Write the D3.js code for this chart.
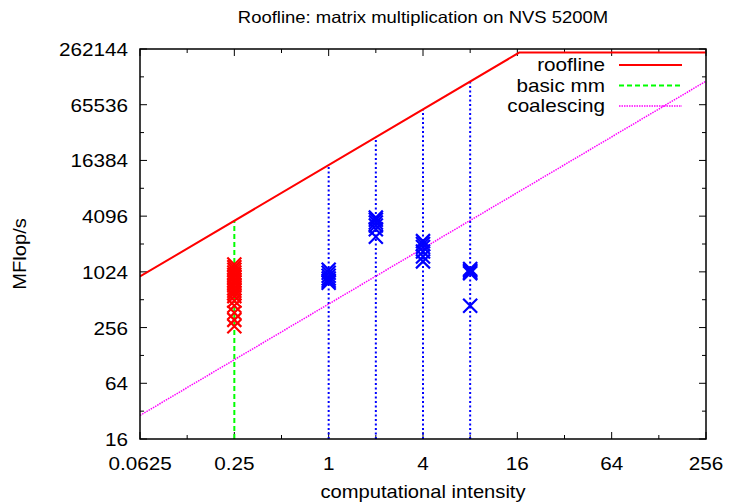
<!DOCTYPE html>
<html>
<head>
<meta charset="utf-8">
<script src="https://cdn.jsdelivr.net/npm/d3@7"></script>
<style>
  body { margin: 0; background: #fff; }
  text { font-family: "Liberation Sans", Arial, sans-serif; fill: #000; }
</style>
</head>
<body>
<div id="chart"></div>
<script>
const width = 729, height = 502;
const margin = {top: 49, right: 23, bottom: 63, left: 140};

// roofline model for the card
const peakMflops = 240000;
const bandwidth = 14600;   // MB/s
const coalescingSlope = 460;

const xTicks = [0.0625, 0.25, 1, 4, 16, 64, 256];
const yTicks = [16, 64, 256, 1024, 4096, 16384, 65536, 262144];

// measured MFlop/s
const basicIntensity = 0.25;
const basicMm = [1230, 1150, 1080, 1010, 950, 890, 830, 780, 730, 680, 640, 600, 560, 500, 440, 370, 310, 265];
const tiledIntensity = [1, 2, 4, 8];
const tiledMm = [
  [1080, 1000, 930, 870, 820, 780],
  [3950, 3750, 3500, 3250, 2950, 2450],
  [2200, 2050, 1900, 1700, 1500, 1330],
  [1100, 1060, 1020, 990, 440]
];

const svg = d3.select('#chart').append('svg')
  .attr('width', width)
  .attr('height', height);

const x = d3.scaleLog().base(2)
  .domain([0.0625, 256])
  .range([margin.left, width - margin.right]);
const y = d3.scaleLog().base(2)
  .domain([16, 262144])
  .range([height - margin.bottom, margin.top]);

const roof = v => Math.min(peakMflops, bandwidth * v);

// ticks, mirrored on all four sides
const xMinor = d3.range(-3, 8, 2).map(e => Math.pow(2, e));
const yMinor = d3.range(5, 18, 2).map(e => Math.pow(2, e));
const tk = svg.append('g').attr('stroke', '#000').attr('stroke-width', 1);
const y0 = y.range()[0], y1 = y.range()[1], x0 = x.range()[0], x1 = x.range()[1];
xTicks.forEach(t => {
  tk.append('line').attr('x1', x(t)).attr('x2', x(t)).attr('y1', y0).attr('y2', y0 - 7);
  tk.append('line').attr('x1', x(t)).attr('x2', x(t)).attr('y1', y1).attr('y2', y1 + 7);
});
xMinor.forEach(t => {
  tk.append('line').attr('x1', x(t)).attr('x2', x(t)).attr('y1', y0).attr('y2', y0 - 4);
  tk.append('line').attr('x1', x(t)).attr('x2', x(t)).attr('y1', y1).attr('y2', y1 + 4);
});
yTicks.forEach(t => {
  tk.append('line').attr('y1', y(t)).attr('y2', y(t)).attr('x1', x0).attr('x2', x0 + 7);
  tk.append('line').attr('y1', y(t)).attr('y2', y(t)).attr('x1', x1).attr('x2', x1 - 7);
});
yMinor.forEach(t => {
  tk.append('line').attr('y1', y(t)).attr('y2', y(t)).attr('x1', x0).attr('x2', x0 + 4);
  tk.append('line').attr('y1', y(t)).attr('y2', y(t)).attr('x1', x1).attr('x2', x1 - 4);
});

svg.append('g').selectAll('text.xt')
  .data(xTicks).enter().append('text')
  .attr('class', 'xt')
  .attr('text-anchor', 'middle')
  .attr('transform', d => `translate(${x(d)},${y0 + 31}) scale(1.15,1)`)
  .style('font-size', '18px')
  .text(d => d);

svg.append('g').selectAll('text.yt')
  .data(yTicks).enter().append('text')
  .attr('class', 'yt')
  .attr('text-anchor', 'end')
  .attr('transform', d => `translate(${x0 - 12},${y(d) + 7}) scale(1.15,1)`)
  .style('font-size', '18px')
  .text(d => d);

const plot = svg.append('g');
svg.append('clipPath').attr('id', 'clip')
  .append('rect').attr('x', x0).attr('y', y1).attr('width', x1 - x0).attr('height', y0 - y1);
plot.attr('clip-path', 'url(#clip)');

// impulses up to the roof
plot.append('line')
  .attr('x1', x(basicIntensity)).attr('x2', x(basicIntensity))
  .attr('y1', y0).attr('y2', y(roof(basicIntensity)))
  .attr('stroke', '#00ff00').attr('stroke-width', 2).attr('stroke-dasharray', '5,3');
plot.selectAll('line.imp')
  .data(tiledIntensity).enter().append('line')
  .attr('class', 'imp')
  .attr('x1', d => x(d)).attr('x2', d => x(d))
  .attr('y1', y0).attr('y2', d => y(roof(d)))
  .attr('stroke', '#0000ff').attr('stroke-width', 2).attr('stroke-dasharray', '2,2.5');

// coalescing line
const xs = [0.0625, 256];
plot.append('path')
  .attr('d', d3.line().x(d => x(d)).y(d => y(coalescingSlope * d))(xs))
  .attr('fill', 'none').attr('stroke', '#ff00ff').attr('stroke-width', 1.5)
  .attr('stroke-dasharray', '1.5,1');

// roofline
const roofPts = [0.0625, peakMflops / bandwidth, 256];
plot.append('path')
  .attr('d', d3.line().x(d => x(d)).y(d => y(roof(d)))(roofPts))
  .attr('fill', 'none').attr('stroke', '#ff0000').attr('stroke-width', 2);

// X markers
function cross(g, px, py, color) {
  const s = 7;
  g.append('path')
    .attr('d', `M${px - s},${py - s}L${px + s},${py + s}M${px - s},${py + s}L${px + s},${py - s}`)
    .attr('stroke', color).attr('stroke-width', 2.2).attr('fill', 'none');
}
basicMm.forEach(v => cross(plot, x(basicIntensity), y(v), '#ff0000'));
tiledIntensity.forEach((xi, i) => tiledMm[i].forEach(v => cross(plot, x(xi), y(v), '#0000ff')));

// frame
svg.append('rect')
  .attr('x', x0).attr('y', y1).attr('width', x1 - x0).attr('height', y0 - y1)
  .attr('fill', 'none').attr('stroke', '#000').attr('stroke-width', 1.5);

// legend
const legend = [
  {name: 'roofline', color: '#ff0000', dash: null, w: 2},
  {name: 'basic mm', color: '#00ff00', dash: '5,3', w: 2},
  {name: 'coalescing', color: '#ff00ff', dash: '1.5,1', w: 1.5}
];
const lg = svg.append('g');
legend.forEach((d, i) => {
  const ly = 65 + i * 20.5;
  lg.append('text')
    .attr('text-anchor', 'end')
    .attr('transform', `translate(605,${ly + 6}) scale(1.15,1)`)
    .style('font-size', '18px')
    .text(d.name);
  lg.append('line')
    .attr('x1', 619).attr('x2', 682).attr('y1', ly).attr('y2', ly)
    .attr('stroke', d.color).attr('stroke-width', d.w)
    .attr('stroke-dasharray', d.dash);
});

// title and axis labels
svg.append('text')
  .attr('text-anchor', 'middle')
  .attr('transform', `translate(${(x0 + x1) / 2},23) scale(1.12,1)`)
  .style('font-size', '16.5px')
  .text('Roofline: matrix multiplication on NVS 5200M');
svg.append('text')
  .attr('text-anchor', 'middle')
  .attr('transform', `translate(${(x0 + x1) / 2},498) scale(1.12,1)`)
  .style('font-size', '18px')
  .text('computational intensity');
svg.append('text')
  .attr('text-anchor', 'middle')
  .attr('transform', `translate(26,254) rotate(-90) scale(1.12,1)`)
  .style('font-size', '18px')
  .text('MFlop/s');
</script>
</body>
</html>
